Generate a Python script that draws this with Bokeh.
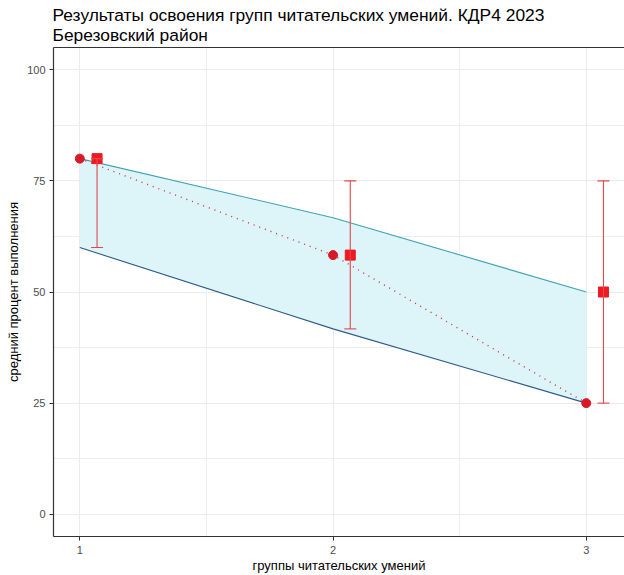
from bokeh.plotting import figure
from bokeh.models import ColumnDataSource, Whisker, LinearAxis, FixedTicker, TeeHead
from bokeh.transform import dodge
from bokeh.embed import file_html
from bokeh.resources import INLINE

# ---- data ----
title_lines = ["Результаты освоения групп читательских умений. КДР4 2023", "Березовский район"]
x_label = "группы читательских умений"
y_label = "средний процент выполнения"

groups = [1, 2, 3]
school_pct = [80.0, 58.3, 25.0]
district_pct = [80.0, 58.3, 50.0]
district_min = [60.0, 41.7, 25.0]
district_max = [80.0, 75.0, 75.0]
band_low = [60.0, 41.7, 25.0]
band_high = [80.0, 66.7, 50.0]
x_ticks = [1, 2, 3]
x_minor = [1.5, 2.5]
y_ticks = [0, 25, 50, 75, 100]
y_minor = [12.5, 37.5, 62.5, 87.5]

FONT = "Liberation Sans"

src = ColumnDataSource(dict(g=groups, school=school_pct, dist=district_pct,
                            dmin=district_min, dmax=district_max,
                            lo=band_low, hi=band_high))

p = figure(width=624, height=575, x_range=(0.896, 3.151), y_range=(-5, 105),
           output_backend="svg", toolbar_location=None,
           title="\n".join(title_lines),
           min_border_left=53, min_border_right=0, min_border_top=47, min_border_bottom=37)

p.title.text_font = FONT
p.title.text_font_size = "17.4px"
p.title.text_font_style = "normal"
p.title.text_color = "#000000"
p.title.text_line_height = 0.98
p.title.standoff = 5
p.title.offset = -1

p.outline_line_color = None
p.background_fill_color = "white"

# grid
xt = FixedTicker(ticks=x_ticks, minor_ticks=x_minor)
yt = FixedTicker(ticks=y_ticks, minor_ticks=y_minor)
p.xaxis.ticker = xt
p.yaxis.ticker = yt
p.xgrid.ticker = xt
p.ygrid.ticker = yt
for g in (p.xgrid, p.ygrid):
    g.grid_line_color = "#EBEBEB"
    g.grid_line_width = 1.1
    g.minor_grid_line_color = "#EBEBEB"
    g.minor_grid_line_width = 0.9

for ax in (p.xaxis, p.yaxis):
    ax.axis_line_color = "#333333"
    ax.axis_line_width = 1.2
    ax.major_tick_line_color = "#333333"
    ax.major_tick_in = 0
    ax.major_tick_out = 4
    ax.minor_tick_line_color = None
    ax.major_label_text_font = FONT
    ax.major_label_text_font_size = "11px"
    ax.major_label_text_color = "#4D4D4D"
    ax.axis_label_text_font = FONT
    ax.axis_label_text_font_size = "13px"
    ax.axis_label_text_font_style = "normal"
    ax.axis_label_text_color = "#000000"
p.xaxis.major_label_standoff = 5
p.xaxis.axis_label_standoff = 1
p.yaxis.major_label_standoff = 4
p.yaxis.axis_label_standoff = 3
p.xaxis.axis_label = x_label
p.yaxis.axis_label = y_label

top_axis = LinearAxis(ticker=FixedTicker(ticks=[]), axis_line_color="#333333", axis_line_width=1.2,
                      major_tick_line_color=None, minor_tick_line_color=None,
                      major_label_standoff=0, major_tick_out=0)
p.add_layout(top_axis, "above")

# ribbon
p.varea(x="g", y1="lo", y2="hi", source=src, fill_color="#DDF4F8")
p.line(x="g", y="hi", source=src, line_color="#3FA2B3", line_width=1.1)
p.line(x="g", y="lo", source=src, line_color="#2D5B8A", line_width=1.1)

# school dotted line + points
p.line(x="g", y="school", source=src, line_color="#C8323C", line_dash="1 5", line_width=1.4)
p.scatter(x="g", y="school", source=src, marker="circle", size=9, fill_color="#D71A28", line_color="#D71A28")

# district squares + error bars
dx = dodge("g", 0.068, range=p.x_range)
p.scatter(x=dx, y="dist", source=src, marker="square", size=10, fill_color="#EE1A22", line_color="#EE1A22")
wh = Whisker(base=dx, upper="dmax", lower="dmin", source=src, level="annotation",
             line_color="#E5474D", line_width=1.1,
             upper_head=TeeHead(size=12, line_color="#E5474D", line_width=1.1),
             lower_head=TeeHead(size=12, line_color="#E5474D", line_width=1.1))
p.add_layout(wh)

open("out.html", "w").write(file_html(p, INLINE))
